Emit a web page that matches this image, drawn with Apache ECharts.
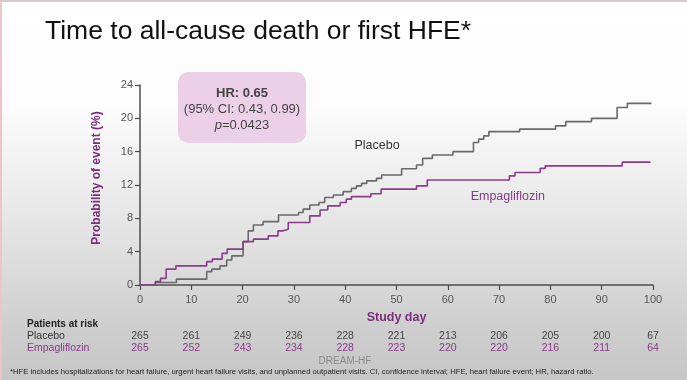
<!DOCTYPE html>
<html><head><meta charset="utf-8">
<script src="https://cdn.jsdelivr.net/npm/echarts@6/dist/echarts.min.js"></script>
<style>
html,body{margin:0;padding:0;width:687px;height:380px;overflow:hidden;
background:linear-gradient(to bottom,#ffffff 0%,#fcfcfc 28%,#ececec 50%,#dcdcdc 70%,#cfcfcf 85%,#c6c6c6 100%);}
#c{width:687px;height:380px;}
</style></head>
<body><div id="c"></div>
<script>
// ---- data ----
const titleText = 'Time to all-cause death or first HFE*';
const xTicks = [0, 10, 20, 30, 40, 50, 60, 70, 80, 90, 100];
const yTicks = [0, 4, 8, 12, 16, 20, 24];

const placeboDays   = [0, 3, 7.1, 13, 14, 15.6, 16.9, 17.9, 20.1, 21.1, 22.1, 24, 27, 30.9, 31.8, 33.1, 34.9, 36, 37.7, 39.6, 41.2, 42.2, 43.2, 44.2, 46.1, 47.1, 51, 53.9, 55.1, 57, 61, 65, 66, 67, 68, 74, 81, 83, 88, 93, 95, 99.7];
const placeboValues = [0, 0.3, 0.7, 1.6, 1.9, 2.3, 3.0, 3.5, 5.2, 6.5, 7.2, 7.6, 8.4, 8.7, 9.1, 9.6, 9.9, 10.5, 10.8, 11.2, 11.6, 11.9, 12.2, 12.5, 12.8, 13.2, 13.95, 14.4, 15.2, 15.6, 16.0, 17.1, 17.5, 17.9, 18.4, 18.7, 19.1, 19.6, 20.0, 21.3, 21.8, 21.8];

const empaDays   = [0, 3, 4, 5.1, 7, 13, 14.1, 16, 17, 20.1, 22.1, 25, 26.9, 27.9, 28.9, 33.1, 35.1, 36.6, 39, 40.2, 41.2, 45, 47, 53.9, 56, 72, 73.1, 78, 79, 94, 99.5];
const empaValues = [0, 0.4, 0.8, 1.9, 2.3, 2.8, 3.1, 3.8, 4.3, 5.2, 5.5, 5.9, 6.5, 6.7, 7.5, 8.3, 9.0, 9.5, 9.9, 10.3, 10.6, 10.95, 11.5, 11.9, 12.6, 13.1, 13.5, 14.0, 14.3, 14.75, 14.75];

const placeboAtRisk = [265, 261, 249, 236, 228, 221, 213, 206, 205, 200, 67];
const empaAtRisk    = [265, 252, 243, 234, 228, 223, 220, 220, 216, 211, 64];

const seriesNames = ['Placebo', 'Empagliflozin'];
const hrLines = ['HR: 0.65', '(95% CI: 0.43, 0.99)', 'p=0.0423'];
const footnote = '*HFE includes hospitalizations for heart failure, urgent heart failure visits, and unplanned outpatient visits. CI, confidence interval; HFE, heart failure event; HR, hazard ratio.';

// ---- chart ----
const GREY = '#6a6a6a', PURPLE = '#8a3b8a', AXIS = '#4d4d4d', FONT = 'Liberation Sans, Arial, sans-serif';
const chart = echarts.init(document.getElementById('c'), null, {renderer: 'canvas'});
const zip = (a, b) => a.map((v, i) => [v, b[i]]);

chart.setOption({
  backgroundColor: 'transparent',
  animation: false,
  textStyle: {fontFamily: FONT},
  grid: {left: 140, right: 34, top: 85, bottom: 95, containLabel: false},
  xAxis: {
    type: 'value', min: 0, max: 100, interval: 10,
    axisLine: {show: true, lineStyle: {color: AXIS, width: 1.5}},
    axisTick: {show: true, length: 5, lineStyle: {color: AXIS, width: 1.2}},
    axisLabel: {color: '#555', fontSize: 11, margin: 9, fontFamily: FONT},
    splitLine: {show: false},
    name: 'Study day', nameLocation: 'middle', nameGap: 26,
    nameTextStyle: {color: '#7b2c7b', fontWeight: 'bold', fontSize: 12.5, fontFamily: FONT}
  },
  yAxis: {
    type: 'value', min: 0, max: 24, interval: 4,
    axisLine: {show: true, lineStyle: {color: AXIS, width: 1.5}},
    axisTick: {show: true, length: 5, lineStyle: {color: AXIS, width: 1.2}},
    axisLabel: {color: '#555', fontSize: 11, margin: 7, fontFamily: FONT},
    splitLine: {show: false}
  },
  series: [
    {name: seriesNames[0], type: 'line', step: 'end', symbol: 'none', data: zip(placeboDays, placeboValues),
     lineStyle: {color: GREY, width: 1.6}, z: 3},
    {name: seriesNames[1], type: 'line', step: 'end', symbol: 'none', data: zip(empaDays, empaValues),
     lineStyle: {color: PURPLE, width: 1.6}, z: 4}
  ]
});

const px = (x, y) => chart.convertToPixel({gridIndex: 0}, [x, y]);
const g = [];
// title
g.push({type: 'text', left: 45, top: 18, style: {text: titleText, fontSize: 26.5, fill: '#111', fontFamily: FONT}});
// y axis name
g.push({type: 'text', x: 97, y: 178, rotation: Math.PI / 2,
  style: {text: 'Probability of event (%)', fontSize: 12, fontWeight: 'bold', fill: '#7b2c7b', align: 'center', verticalAlign: 'middle', fontFamily: FONT}});
// HR box
g.push({type: 'rect', shape: {x: 178, y: 72, width: 128, height: 71, r: 10}, style: {fill: '#ebd0e7'}});
g.push({type: 'text', x: 242, y: 93, style: {text: hrLines[0], fontSize: 13, fontWeight: 'bold', fill: '#444', align: 'center', verticalAlign: 'middle', fontFamily: FONT}});
g.push({type: 'text', x: 242, y: 109, style: {text: hrLines[1], fontSize: 13, fill: '#444', align: 'center', verticalAlign: 'middle', fontFamily: FONT}});
g.push({type: 'text', x: 242, y: 125, style: {text: '{i|p}{n|=0.0423}', align: 'center', verticalAlign: 'middle',
  rich: {i: {fontStyle: 'italic', fontSize: 13, fill: '#444', fontFamily: FONT}, n: {fontSize: 13, fill: '#444', fontFamily: FONT}}}});
// series labels
const pl = px(46.2, 16.7), el = px(71.7, 10.6);
g.push({type: 'text', x: pl[0], y: pl[1], style: {text: seriesNames[0], fontSize: 12.5, fill: '#333', align: 'center', verticalAlign: 'middle', fontFamily: FONT}});
g.push({type: 'text', x: el[0], y: el[1], style: {text: seriesNames[1], fontSize: 12.5, fill: PURPLE, align: 'center', verticalAlign: 'middle', fontFamily: FONT}});
// at-risk table
g.push({type: 'text', x: 27, y: 324, style: {text: 'Patients at risk', fontSize: 10, fontWeight: 'bold', fill: '#222', verticalAlign: 'middle', fontFamily: FONT}});
g.push({type: 'text', x: 27, y: 336, style: {text: seriesNames[0], fontSize: 10.5, fill: '#333', verticalAlign: 'middle', fontFamily: FONT}});
g.push({type: 'text', x: 27, y: 348.5, style: {text: seriesNames[1], fontSize: 10.5, fill: PURPLE, verticalAlign: 'middle', fontFamily: FONT}});
xTicks.forEach((t, i) => {
  const p = px(t, 0);
  g.push({type: 'text', x: p[0], y: 336, style: {text: String(placeboAtRisk[i]), fontSize: 10.5, fill: '#444', align: 'center', verticalAlign: 'middle', fontFamily: FONT}});
  g.push({type: 'text', x: p[0], y: 348.5, style: {text: String(empaAtRisk[i]), fontSize: 10.5, fill: PURPLE, align: 'center', verticalAlign: 'middle', fontFamily: FONT}});
});
g.push({type: 'text', x: 345, y: 361, style: {text: 'DREAM-HF', fontSize: 10, fill: '#8a8a8a', align: 'center', verticalAlign: 'middle', fontFamily: FONT}});
g.push({type: 'text', x: 10, y: 371.5, style: {text: footnote, fontSize: 7.7, fill: '#222', verticalAlign: 'middle', fontFamily: FONT}});
// slide edge
g.push({type: 'rect', shape: {x: 0, y: 0, width: 2, height: 380}, style: {fill: '#efc4c4'}});
g.push({type: 'rect', shape: {x: 0, y: 0, width: 687, height: 2}, style: {fill: '#d8c8c8'}});
chart.setOption({graphic: g});
</script>
</body></html>
